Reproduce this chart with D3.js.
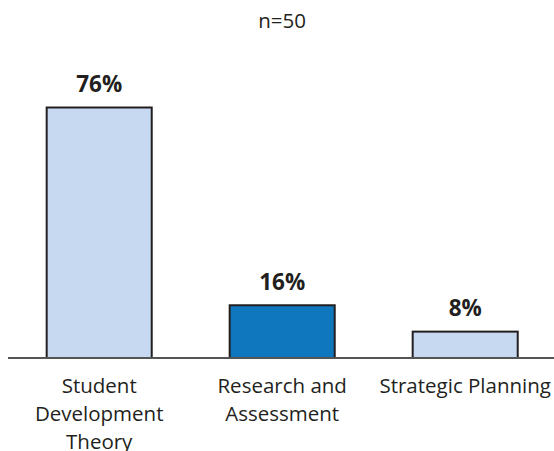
<!DOCTYPE html>
<html><head><meta charset="utf-8">
<script src="https://cdn.jsdelivr.net/npm/d3@7"></script>
<style>body{margin:0;background:#fff}svg{display:block}</style>
</head><body>
<script>
const categories = [["Student","Development","Theory"],["Research and","Assessment"],["Strategic Planning"]];
const values = [76, 16, 8];
const valueLabels = ["76%", "16%", "8%"];
const barColors = ["#C6D9F1", "#0F77BD", "#C6D9F1"];
const title = "n=50";

const W = 554, H = 451;
const font = "'Open Sans', sans-serif";
const svg = d3.select("body").append("svg").attr("width", W).attr("height", H);

const x = d3.scaleBand().domain(d3.range(values.length)).range([7.7, 556.7]).paddingInner(0.426).paddingOuter(0.213);
const y = d3.scaleLinear().domain([0, 76]).range([358, 107.5]);

svg.append("text").attr("x", 282).attr("y", 28).attr("text-anchor", "middle")
  .attr("font-family", font).attr("font-size", 20.5).attr("fill", "#231F20").text(title);

svg.selectAll("rect.bar").data(values).join("rect").attr("class","bar")
  .attr("x", (d,i) => x(i)).attr("width", x.bandwidth())
  .attr("y", d => y(d)).attr("height", d => y(0) - y(d))
  .attr("fill", (d,i) => barColors[i]).attr("stroke", "#231F20").attr("stroke-width", 2);

svg.append("line").attr("x1", 8).attr("x2", 554).attr("y1", y(0)).attr("y2", y(0))
  .attr("stroke", "#555").attr("stroke-width", 2);

svg.selectAll("text.val").data(values).join("text").attr("class","val")
  .attr("x", (d,i) => x(i) + x.bandwidth()/2).attr("y", d => y(d) - 15.5)
  .attr("text-anchor", "middle").attr("font-family", font).attr("font-weight", "bold")
  .attr("font-size", 22.5).attr("fill", "#231F20").text((d,i) => valueLabels[i]);

const cat = svg.selectAll("text.cat").data(categories).join("text").attr("class","cat")
  .attr("x", (d,i) => x(i) + x.bandwidth()/2).attr("y", 393)
  .attr("text-anchor", "middle").attr("font-family", font).attr("font-size", 20.5).attr("fill", "#231F20");
cat.each(function(lines){
  d3.select(this).selectAll("tspan").data(lines).join("tspan")
    .attr("x", d3.select(this).attr("x")).attr("dy", (d,j) => j === 0 ? 0 : 28).text(d => d);
});
</script>
</body></html>
